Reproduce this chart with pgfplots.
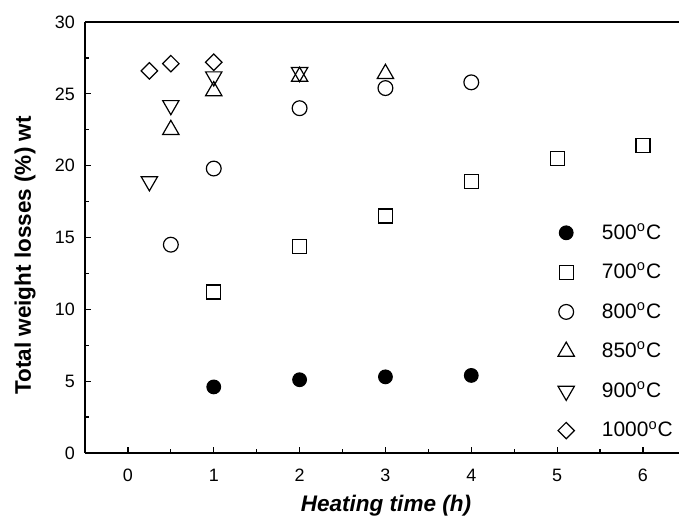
\documentclass[border=0pt]{standalone}
\usepackage{fontspec}
\setmainfont{Liberation Sans}
\usepackage{pgfplots}
\pgfplotsset{compat=1.18}

\begin{document}
\begin{tikzpicture}
\useasboundingbox (-42.5bp,-31.5bp) rectangle (297bp,226.5bp);
\begin{axis}[
    scale only axis,
    width=297bp, height=215.5bp,
    xmin=-0.5, xmax=6.42, ymin=0, ymax=30,
    axis x line*=bottom, axis y line*=left,
    xtick={0,1,2,3,4,5,6}, ytick={0,5,10,15,20,25,30},
    minor x tick num=1, minor y tick num=1,
    tick align=inside,
    major tick length=3.2bp, minor tick length=2bp,
    every axis/.append style={line width=0.6pt},
    tick style={line width=0.6pt, black},
    /pgf/number format/assume math mode=true,
    tick label style={font=\fontsize{9}{10}\selectfont},
    yticklabel style={anchor=east, xshift=-1.5bp},
    xticklabel style={anchor=center, yshift=-11bp},
    xlabel={\bfseries\itshape Heating time (h)},
    ylabel={\textbf{Total weight losses (\%) wt}},
    label style={font=\fontsize{11.3}{13}\selectfont},
    xlabel style={at={(axis description cs:0.5,0)}, anchor=base, yshift=-29bp, xshift=2bp},
    ylabel style={at={(axis description cs:0,0.5)}, anchor=base, yshift=27bp, xshift=-9bp},
    legend style={draw=none, fill=none, inner sep=0pt, at={(axis cs:4.96,16.3)}, anchor=north west,
                  font=\fontsize{10.5}{12}\selectfont, row sep=6.4bp},
    legend cell align=left,
    legend image code/.code={\draw[#1] plot coordinates {(0cm,0cm)}; \path (-0.2cm,0cm) (0.55cm,0cm);},
    every axis plot/.append style={only marks, black, line width=0.6pt},
]
% 500 C
\addplot[mark=*, mark size=3.4bp, mark options={fill=black}]
  coordinates {(1,4.6)(2,5.1)(3,5.3)(4,5.4)};
\addlegendentry{500\textsuperscript{o}C}
% 700 C
\addplot[mark=square, mark size=3.5bp]
  coordinates {(1,11.2)(2,14.4)(3,16.5)(4,18.9)(5,20.5)(6,21.4)};
\addlegendentry{700\textsuperscript{o}C}
% 800 C
\addplot[mark=o, mark size=3.7bp]
  coordinates {(0.5,14.5)(1,19.8)(2,24.0)(3,25.4)(4,25.8)};
\addlegendentry{800\textsuperscript{o}C}
% 850 C
\addplot[mark=triangle, mark size=4.7bp]
  coordinates {(0.5,22.5)(1,25.2)(2,26.2)(3,26.4)};
\addlegendentry{850\textsuperscript{o}C}
% 900 C
\addplot[mark=triangle, mark size=4.7bp, mark options={rotate=180}]
  coordinates {(0.25,18.9)(0.5,24.2)(1,26.2)(2,26.5)};
\addlegendentry{900\textsuperscript{o}C}
% 1000 C
\addplot[mark=square, mark size=2.9bp, mark options={rotate=45}]
  coordinates {(0.25,26.6)(0.5,27.1)(1,27.2)};
\addlegendentry{1000\textsuperscript{o}C}
\end{axis}
\draw[line width=0.6pt] (0,215.5bp) -- (297bp,215.5bp);
\end{tikzpicture}
\end{document}
